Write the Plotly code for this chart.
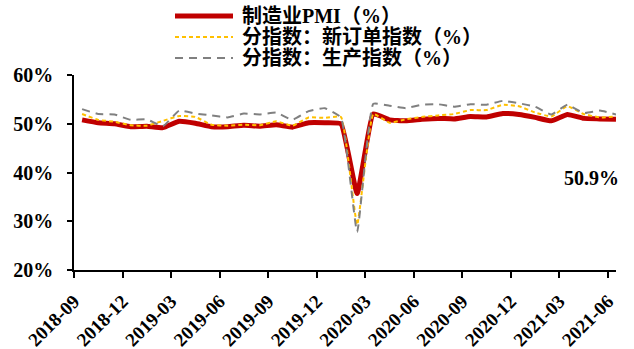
import plotly.graph_objects as go

months = [
    "2018-09", "2018-10", "2018-11", "2018-12", "2019-01", "2019-02", "2019-03", "2019-04",
    "2019-05", "2019-06", "2019-07", "2019-08", "2019-09", "2019-10", "2019-11", "2019-12",
    "2020-01", "2020-02", "2020-03", "2020-04", "2020-05", "2020-06", "2020-07", "2020-08",
    "2020-09", "2020-10", "2020-11", "2020-12", "2021-01", "2021-02", "2021-03", "2021-04",
    "2021-05", "2021-06",
]
pmi = [50.8, 50.2, 50.0, 49.4, 49.5, 49.2, 50.5, 50.1, 49.4, 49.4, 49.7, 49.5, 49.8, 49.3,
       50.2, 50.2, 50.0, 35.7, 52.0, 50.8, 50.6, 50.9, 51.1, 51.0, 51.5, 51.4, 52.1, 51.9,
       51.3, 50.6, 51.9, 51.1, 51.0, 50.9]
new_orders = [52.0, 50.8, 50.4, 49.7, 49.6, 50.6, 51.6, 51.4, 49.8, 49.6, 49.8, 49.7, 50.5,
              49.6, 51.3, 51.2, 51.4, 29.3, 52.0, 50.2, 50.9, 51.4, 51.7, 52.0, 52.8, 52.8,
              53.9, 53.6, 52.3, 51.5, 53.6, 52.0, 51.3, 51.5]
production = [53.0, 52.0, 51.9, 50.8, 50.9, 49.5, 52.7, 52.1, 51.7, 51.3, 52.1, 51.9, 52.3,
              50.8, 52.6, 53.2, 51.3, 27.8, 54.1, 53.7, 53.2, 53.9, 54.0, 53.5, 54.0, 53.9,
              54.7, 54.2, 53.5, 51.9, 53.9, 52.2, 52.7, 51.9]
series_names = ["制造业PMI（%）", "分指数：新订单指数（%）", "分指数：生产指数（%）"]
tick_labels = months[::3]
y_ticks = [20, 30, 40, 50, 60]

FONT = "Times New Roman, Liberation Serif, Noto Sans CJK SC"
W, H = 634, 349
M = dict(l=74, r=18, t=75, b=79)
PW, PH = W - M["l"] - M["r"], H - M["t"] - M["b"]

styles = [
    dict(color="#C00000", width=5),
    dict(color="#FFC000", width=2, dash="4px,3px"),
    dict(color="#808080", width=2, dash="8px,6px"),
]

x = list(range(len(months)))
fig = go.Figure()
for name, ys, st in zip(series_names, [pmi, new_orders, production], styles):
    fig.add_trace(go.Scatter(
        x=x, y=ys, mode="lines", name=name, showlegend=False,
        line=dict(shape="spline", smoothing=0.35, **st),
    ))


def px_to_paper(px, py):
    return (px - M["l"]) / PW, (H - M["b"] - py) / PH


# legend drawn as key lines plus labels above the plot area
for i, (name, st) in enumerate(zip(series_names, styles)):
    row_y = 16 + 21 * i
    x0, y0 = px_to_paper(175, row_y)
    x1, _ = px_to_paper(233, row_y)
    fig.add_shape(type="line", xref="paper", yref="paper",
                  x0=x0, x1=x1, y0=y0, y1=y0, line=st)
    tx, _ = px_to_paper(240, row_y)
    fig.add_annotation(x=tx, y=y0, xref="paper", yref="paper",
                       xanchor="left", yanchor="middle", showarrow=False,
                       text=f"<b>{name}</b>",
                       font=dict(family=FONT, size=20, color="black"))

# closing value of the headline PMI, right-aligned near the end of the axis
lx, ly = px_to_paper(621, 178)
fig.add_annotation(
    x=lx, y=ly, xref="paper", yref="paper", xanchor="right", yanchor="middle",
    text=f"<b>{pmi[-1]:.1f}%</b>", showarrow=False,
    font=dict(family=FONT, size=20, color="black"),
)

fig.update_layout(
    width=W, height=H,
    margin=dict(autoexpand=False, **M),
    paper_bgcolor="white", plot_bgcolor="white",
    font=dict(family=FONT, color="black"),
    showlegend=False,
    xaxis=dict(
        range=[-0.5, len(months) - 1],
        tickmode="array",
        tickvals=[i - 0.5 for i in range(0, len(months), 3)],
        ticktext=[f"<b>{t}</b>" for t in tick_labels],
        tickangle=-45,
        ticks="outside", ticklen=6, tickwidth=1.5, tickcolor="black",
        ticklabelstandoff=5,
        showline=True, linecolor="black", linewidth=1.5,
        showgrid=False, zeroline=False, automargin=False,
        tickfont=dict(family=FONT, size=19, color="black"),
    ),
    yaxis=dict(
        range=[20, 60],
        tickmode="array", tickvals=y_ticks,
        ticktext=[f"<b>{v}%</b>" for v in y_ticks],
        ticks="outside", ticklen=5, tickwidth=1.5, tickcolor="black",
        ticklabelstandoff=10,
        showline=True, linecolor="black", linewidth=1.5,
        showgrid=False, zeroline=False, automargin=False,
        tickfont=dict(family=FONT, size=20, color="black"),
    ),
)

fig.write_html("out.html")
